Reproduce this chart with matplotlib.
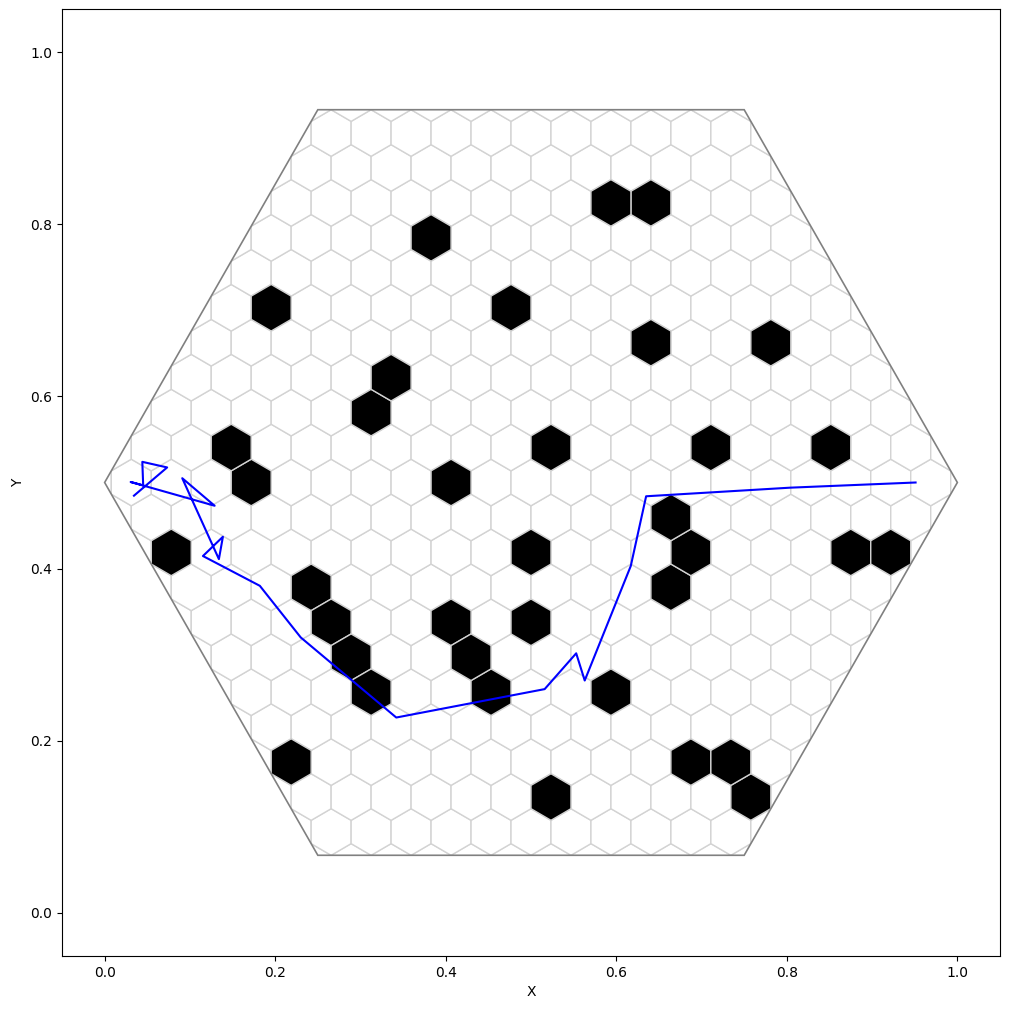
import matplotlib
matplotlib.use('Agg')
import matplotlib.pyplot as plt
from matplotlib.patches import Polygon, RegularPolygon
import numpy as np

# blocked cells: (row, col) in the small hex grid, row 0 / col 0 = centre cell
blocked_rows = [8, 8, 7, 5, 5, 4, 4, 3, 2, 1, 1, 1, 1, 0, 0, -1,
                -2, -2, -2, -2, -2, -3, -3, -4, -4, -4, -5, -5,
                -6, -6, -6, -8, -8, -8, -9, -9]
blocked_cols = [2, 3, -3, -7, -1, 3, 6, -4, -4, -8, 0, 4, 7, -7, -2, 3,
                -9, 0, 4, 8, 9, -6, 3, -5, -2, 0, -5, -2,
                -4, -1, 2, -6, 4, 5, 0, 5]

# robot path
path_x = [0.0344, 0.0733, 0.0442, 0.0452, 0.0305, 0.129, 0.091, 0.134, 0.1387,
          0.1153, 0.182, 0.230, 0.342, 0.516, 0.553, 0.563, 0.617, 0.635, 0.804, 0.951]
path_y = [0.4847, 0.5175, 0.524, 0.4967, 0.5006, 0.473, 0.505, 0.411, 0.437,
          0.4146, 0.380, 0.320, 0.227, 0.260, 0.3016, 0.270, 0.403, 0.484, 0.494, 0.500]

r = np.sqrt(3) / 64          # small hex radius
w = np.sqrt(3) * r           # horizontal spacing
h = 1.5 * r                  # row spacing


def centre(k, j):
    return 0.5 + (j + 0.5 * (k % 2)) * w, 0.5 + k * h


fig = plt.figure(figsize=(10.09, 10.09), dpi=100)
ax = fig.add_axes([62 / 1009, 1 - 956 / 1009, 938 / 1009, 947 / 1009])

ang = np.deg2rad(np.arange(0, 360, 60))
big = Polygon(np.column_stack([0.5 + 0.5 * np.cos(ang), 0.5 + 0.5 * np.sin(ang)]),
              closed=True, facecolor='none', edgecolor='gray', lw=1.2, zorder=5)
ax.add_patch(big)

blocked = set(zip(blocked_rows, blocked_cols))
for k in range(-12, 13):
    for j in range(-12, 13):
        if (k, j) in blocked:
            continue
        p = RegularPolygon(centre(k, j), numVertices=6, radius=r, orientation=0,
                           facecolor='white', edgecolor='lightgray', lw=1.0, zorder=1)
        ax.add_patch(p)
        p.set_clip_path(big)

for k, j in blocked:
    p = RegularPolygon(centre(k, j), numVertices=6, radius=r, orientation=0,
                       facecolor='black', edgecolor='lightgray', lw=1.0, zorder=2)
    ax.add_patch(p)
    p.set_clip_path(big)

ax.plot(path_x, path_y, color='blue', lw=1.5, zorder=4)

ax.set_xlim(-0.05, 1.05)
ax.set_ylim(-0.05, 1.05)
ax.set_xlabel('X')
ax.set_ylabel('Y')
fig.savefig('out.png', dpi=100)
